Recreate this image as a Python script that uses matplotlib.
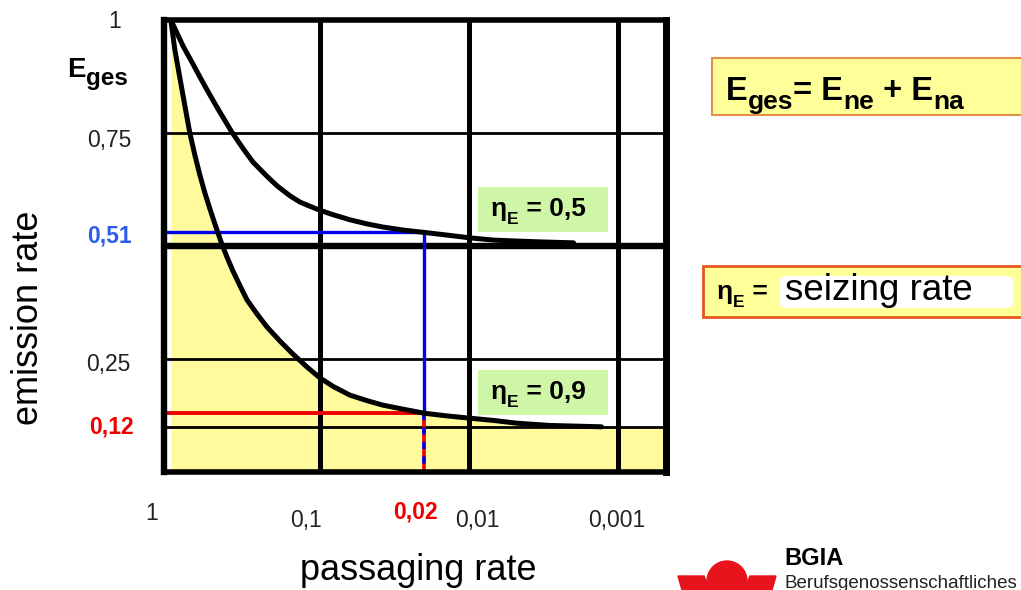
import matplotlib.pyplot as plt
from matplotlib.patches import Rectangle, FancyBboxPatch, Ellipse, Polygon
from matplotlib.transforms import ScaledTranslation
from matplotlib.text import Annotation

plt.rcParams['font.family'] = ['Liberation Sans', 'DejaVu Sans']

# --- data ---
# passaging rate P and emission rate E for eta_E = 0.5
p_eta05 = [1.0, 0.827, 0.712, 0.622, 0.547, 0.469, 0.39, 0.327, 0.282, 0.228, 0.194, 0.159,
           0.136, 0.117, 0.1, 0.0814, 0.063, 0.0486, 0.038, 0.0274, 0.02, 0.014, 0.0099, 0.00684,
           0.0048, 0.0033, 0.002]
e_eta05 = [1.0, 0.942, 0.903, 0.867, 0.834, 0.796, 0.752, 0.715, 0.686, 0.655, 0.633, 0.611,
           0.597, 0.588, 0.579, 0.569, 0.558, 0.549, 0.542, 0.535, 0.530, 0.524, 0.518, 0.513,
           0.511, 0.509, 0.507]

# eta_E = 0.9
p_eta09 = [1.0, 0.94, 0.87, 0.805, 0.746, 0.69, 0.639, 0.591, 0.547, 0.507, 0.455, 0.415, 0.384,
           0.344, 0.309, 0.265, 0.227, 0.186, 0.152, 0.122, 0.1, 0.0814, 0.063, 0.0486, 0.038,
           0.0288, 0.02, 0.014, 0.0099, 0.00684, 0.0048, 0.0029, 0.0013]
e_eta09 = [1.0, 0.934, 0.872, 0.810, 0.750, 0.701, 0.657, 0.617, 0.582, 0.549, 0.504, 0.471, 0.445,
           0.412, 0.381, 0.350, 0.321, 0.290, 0.261, 0.232, 0.208, 0.189, 0.170, 0.158, 0.148,
           0.140, 0.130, 0.124, 0.119, 0.114, 0.108, 0.103, 0.100]

p_example = 0.02          # marked passaging rate
e_example05 = 0.53        # blue level (labelled 0,51)
e_example09 = 0.13        # red level (labelled 0,12)

grid_x = [0.1, 0.01, 0.001]
grid_y_thin = [0.75, 0.25, 0.1]
grid_y_thick = [0.5]
e_floor09 = 0.1           # yellow area continues at this level to the right

x_ticks = [1, 0.1, 0.02, 0.01, 0.001]
x_ticklabels = ['1', '0,1', '0,02', '0,01', '0,001']
y_ticks = [1.0, 0.75, 0.53, 0.25, 0.13]
y_ticklabels = ['1', '0,75', '0,51', '0,25', '0,12']

W, H = 1021, 590


def px(x, y):
    return (x / W, 1 - y / H)


def chain(fig, x, y, parts, **kw):
    # parts: (text, fontsize, drop in points relative to previous piece)
    txt, size, _ = parts[0]
    prev = fig.text(*px(x, y), txt, fontsize=size, ha='left', va='baseline', **kw)
    for txt, size, dy in parts[1:]:
        a = Annotation(txt, xy=(1, 0), xycoords=prev, xytext=(0, -dy), textcoords='offset points',
                       fontsize=size, ha='left', va='bottom', **kw)
        fig.add_artist(a)
        prev = a


fig = plt.figure(figsize=(W / 100, H / 100), dpi=100)
ax = fig.add_axes([163.5 / W, 1 - 472 / H, (666 - 163.5) / W, (472 - 20) / H])
ax.set_xscale('log')
ax.set_xlim(1.12, 0.00048)
ax.set_ylim(0, 1)

yellow = '#FFFA9C'
# yellow area under the eta=0.9 curve
fill_x = p_eta09 + [ax.get_xlim()[1]]
fill_y = e_eta09 + [e_floor09]
ax.fill_between(fill_x, fill_y, 0, color=yellow, lw=0, zorder=1)

# grid
for gx in grid_x:
    ax.axvline(gx, color='black', lw=3.6, zorder=2)
for gy in grid_y_thin:
    ax.axhline(gy, color='black', lw=2.0, zorder=2)
for gy in grid_y_thick:
    ax.axhline(gy, color='black', lw=4.6, zorder=2)

# example lines
ax.plot([ax.get_xlim()[0], p_example], [e_example05, e_example05], color='#0000EE', lw=2.4, zorder=3,
        solid_capstyle='butt')
ax.plot([p_example, p_example], [e_example05, e_example09], color='#0000EE', lw=2.4, zorder=3)
ax.plot([ax.get_xlim()[0], p_example], [e_example09, e_example09], color='#EE0000', lw=2.8, zorder=3,
        solid_capstyle='butt')
ax.plot([p_example, p_example], [e_example09, 0], color='#EE0000', lw=2.6, zorder=3)
ax.plot([p_example, p_example], [e_example09, 0], color='#0000EE', lw=2.6, zorder=3,
        dashes=(2, 2))

# curves
ax.plot(p_eta05, e_eta05, color='black', lw=3.6, zorder=4, solid_joinstyle='round', solid_capstyle='round')
ax.plot(p_eta09, e_eta09, color='black', lw=3.6, zorder=4, solid_joinstyle='round', solid_capstyle='round')

# frame
for side, w in [('left', 4.6), ('top', 4.0), ('right', 5.0), ('bottom', 4.0)]:
    ax.spines[side].set_linewidth(w)
    ax.spines[side].set_zorder(5)
ax.set_xticks([])
ax.set_yticks([])
ax.minorticks_off()

# tick labels (placed like the drawing, with small offsets)
x_offsets = [(-19, -41), (-14, -49), (-9, -40), (8, -48), (-2, -48)]
x_styles = [('#222222', 'normal'), ('#222222', 'normal'), ('#EE0000', 'bold'),
            ('#222222', 'normal'), ('#222222', 'normal')]
for xv, lab, (dx, dy), (c, fw) in zip(x_ticks, x_ticklabels, x_offsets, x_styles):
    tr = ax.get_xaxis_transform() + ScaledTranslation(dx / 100, dy / 100, fig.dpi_scale_trans)
    ax.text(xv, 0, lab, transform=tr, ha='center', va='center', fontsize=16.5, color=c,
            fontweight=fw, clip_on=False)

y_offsets = [(-42, -1), (-32, -7), (-32, -4), (-33, -6), (-30, -14)]
y_styles = [('#222222', 'normal'), ('#222222', 'normal'), ('#2a5ee8', 'bold'),
            ('#222222', 'normal'), ('#EE0000', 'bold')]
for yv, lab, (dx, dy), (c, fw) in zip(y_ticks, y_ticklabels, y_offsets, y_styles):
    tr = ax.get_yaxis_transform() + ScaledTranslation(dx / 100, dy / 100, fig.dpi_scale_trans)
    ax.text(0, yv, lab, transform=tr, ha='right', va='center', fontsize=16.5, color=c,
            fontweight=fw, clip_on=False)

chain(fig, 67, 77, [('E', 20, 0), ('ges', 17.5, 5)], fontweight='bold')

fig.text(*px(28, 318), 'emission rate', rotation=90, fontsize=26, ha='center', va='center')
fig.text(*px(418, 570), 'passaging rate', fontsize=26, ha='center', va='center')

# green labels
green = '#CFF5A6'
for top, val in [(187, '0,5'), (370, '0,9')]:
    x0, y0 = px(478, top + 45)
    fig.add_artist(Rectangle((x0, y0), 130 / W, 45 / H, transform=fig.transFigure,
                             facecolor=green, edgecolor='none'))
    chain(fig, 491, top + 29, [('η', 19, 0), ('E', 12.5, 4), (' = ' + val, 19, -4)], fontweight='bold')

# formula box
x0, y0 = px(712, 115)
fig.add_artist(Rectangle((x0, y0), 330 / W, 57 / H, transform=fig.transFigure,
                         facecolor='#FFFF99', edgecolor='#E0904A', lw=1.5))
chain(fig, 726, 100, [('E', 23.5, 0), ('ges', 19, 5), ('= E', 23.5, -5), ('ne', 19, 5),
                      (' + E', 23.5, -5), ('na', 19, 5)], fontweight='bold')

# seizing rate box
x0, y0 = px(703, 317)
fig.add_artist(Rectangle((x0, y0), 330 / W, 51 / H, transform=fig.transFigure,
                         facecolor='#FFFF99', edgecolor='#E8561E', lw=2))
chain(fig, 717, 299, [('η', 19, 0), ('E', 12.5, 4), (' =', 19, -4)], fontweight='bold')
x0, y0 = px(782, 307)
fig.add_artist(FancyBboxPatch((x0, y0), 229 / W, 30 / H, transform=fig.transFigure,
                              boxstyle='round,pad=0.002,rounding_size=0.008',
                              facecolor='white', edgecolor='none'))
fig.text(*px(785, 300), 'seizing rate', fontsize=26.5, ha='left', va='baseline')

# logo
red = '#E8141C'
cx, cy = px(727, 581)
fig.add_artist(Ellipse((cx, cy), 40 / W, 40 / H, transform=fig.transFigure, color=red))
for pts in [[(678, 576), (704, 576), (710, 590), (682, 590)],
            [(750, 576), (776, 576), (772, 590), (744, 590)]]:
    fig.add_artist(Polygon([px(a, b) for a, b in pts], closed=True, transform=fig.transFigure,
                           color=red))
fig.text(*px(784, 565), 'BGIA', fontsize=17, fontweight='bold', ha='left', va='baseline')
fig.text(*px(784, 588), 'Berufsgenossenschaftliches', fontsize=13.5, ha='left', va='baseline',
         color='#222222')

fig.savefig('out.png', dpi=100)
